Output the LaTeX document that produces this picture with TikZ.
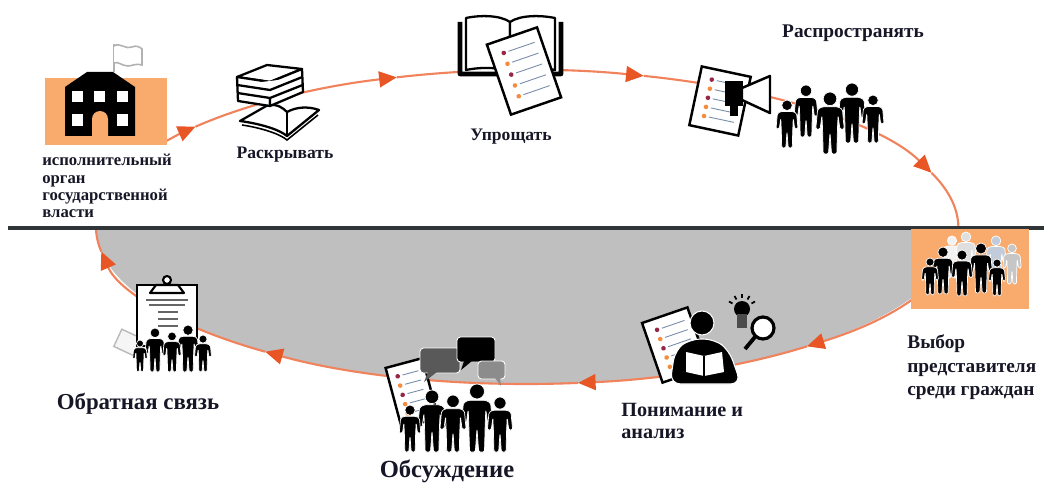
\documentclass[tikz,border=0pt]{standalone}
\usepackage{fontspec}
\setmainfont{Liberation Serif}
\usepackage{tikz}
\usetikzlibrary{arrows.meta}
\usetikzlibrary{calc}
\usetikzlibrary{positioning}

\definecolor{loopcol}{RGB}{240,130,92}
\definecolor{tipcol}{RGB}{232,86,38}
\definecolor{boxorange}{RGB}{249,171,110}
\definecolor{lowgray}{RGB}{191,191,191}
\definecolor{rulegray}{RGB}{48,54,56}
\definecolor{dotred}{RGB}{150,40,70}
\definecolor{dotorange}{RGB}{244,140,64}
\definecolor{rowblue}{RGB}{120,140,170}
\definecolor{inktext}{RGB}{22,22,38}

\begin{document}
\begin{tikzpicture}[x=0.02cm,y=-0.02cm]
  \newcommand{\person}[4]{%
    \begin{scope}[shift={(#1,#2)}, scale=#3]
      \filldraw[fill=#4, draw=white, line width=0.4pt] (0,0.11) circle (0.11);
      \filldraw[fill=#4, draw=white, line width=0.4pt, rounded corners=0.8pt] (-0.13,0.24) -- (0.13,0.24) -- (0.2,0.28) -- (0.23,0.6) -- (0.16,0.6) -- (0.13,0.38) -- (0.12,0.6) -- (0.11,1) -- (0.025,1) -- (0,0.66) -- (-0.025,1) -- (-0.11,1) -- (-0.12,0.6) -- (-0.13,0.38) -- (-0.16,0.6) -- (-0.23,0.6) -- (-0.2,0.28) -- cycle;
    \end{scope}}
  \newcommand{\listsheet}[5]{%
    \begin{scope}[shift={(#1,#2)}, rotate=#3]
      \draw[sheet] ({-#4/2},{-#5/2}) rectangle ({#4/2},{#5/2});
      \foreach \k/\dc in {0/dotred,1/dotorange,2/dotred,3/dotorange,4/dotorange} {
        \fill[\dc] ({-#4/4},{-#5/2+#5*(0.18+0.155*\k)}) circle (2.3);
        \draw[rowblue, line width=0.5pt] ({-#4/4+5},{-#5/2+#5*(0.18+0.155*\k)}) -- ({#4/2-7},{-#5/2+#5*(0.18+0.155*\k)});
      }
    \end{scope}}
  \tikzstyle{loopline} = [draw=loopcol, line width=1.2pt]
  \tikzstyle{looptip}  = [loopline, -{Triangle[length=10pt, width=9pt, color=tipcol]}]
  \tikzstyle{ink}      = [draw=black, line width=1.3pt, line join=round, fill=white]
  \tikzstyle{sheet}    = [draw=black, line width=1.4pt, fill=white]
  \tikzstyle{obox}     = [fill=boxorange, inner sep=0pt]
  \tikzstyle{steptext} = [text=inktext, inner sep=0pt, align=left]

  \useasboundingbox (0,0) rectangle (1044,486);

  % grey lower half and the orange loop
  \coordinate (c) at (527,227);
  \begin{scope}
    \clip (0,228) rectangle (1044,486);
    \fill[lowgray] (c) ellipse [x radius=431, y radius=157];
  \end{scope}
  \foreach \a/\b in {212/219.7, 219.7/252.4, 252.4/285.7, 285.7/339.8, 339.8/409.5, 409.5/443.2, 443.2/487.4, 487.4/531}
    \draw[looptip] ($(c)+(\a:431 and 157)$) arc[start angle=\a, end angle=\b, x radius=431, y radius=157];
  \draw[loopline] ($(c)+(531:431 and 157)$) arc[start angle=531, end angle=540, x radius=431, y radius=157];
  \draw[rulegray, line width=1.8pt] (8,228) -- (1044,228);

  \node[obox, minimum width=2.44cm, minimum height=1.34cm] (govbox) at (106,111.5) {};
  \node[obox, minimum width=2.36cm, minimum height=1.6cm] (crowdbox) at (970,269) {};

  % building with flag
  \draw[gray!60, line width=1pt] (114,72) -- (114,44);
  \draw[gray!60, line width=0.9pt, fill=white] (114,46) .. controls (120,42) and (126,50) .. (132,47) .. controls (136,45) and (140,47) .. (142,49) -- (142,65) .. controls (136,63) and (132,66) .. (128,66) .. controls (122,66) and (118,61) .. (114,63);
  \fill[black] (65,136) -- (65,87) -- (87,72) -- (113,72) -- (135,87) -- (135,136) -- cycle;
  \foreach \wx in {72,94,117} \fill[white] (\wx,91) rectangle ++(11,11);
  \foreach \wx in {72,117} \fill[white] (\wx,114) rectangle ++(11,12);
  \fill[boxorange] (92,136) -- (92,119) arc[start angle=180, end angle=360, x radius=8, y radius=8] -- (108,136) -- cycle;

  % books
  \draw[ink] (240,121) -- (268,105) .. controls (278,104) and (283,108) .. (287,112) .. controls (296,107) and (308,106) .. (319,110) -- (287,136) .. controls (280,130) and (262,124) .. (240,121) -- cycle;
  \draw[ink] (287,112) -- (287,136);
  \draw[black, line width=0.9pt] (242,125) .. controls (262,128) and (280,134) .. (287,140) -- (318,115);
  \draw[ink] (237,77) -- (267,65) -- (302,69) -- (270,82) -- cycle;
  \draw[ink] (237,77) -- (270,82) -- (270,106) -- (238,101) -- cycle;
  \draw[ink] (270,82) -- (302,69) -- (303,92) -- (270,106) -- cycle;
  \draw[ink] (237.3,85) -- (270,90) -- (302.3,77) (237.6,93) -- (270,98) -- (302.6,85);

  % open book with list
  \draw[ink, line width=2.6pt] (460,22) -- (460,74) -- (506,74) -- (510,78) -- (514,74) -- (561,74) -- (561,22);
  \draw[ink] (510,72) -- (510,22) .. controls (500,15) and (480,15) .. (466,18) -- (466,70) .. controls (480,67) and (500,67) .. (510,72);
  \draw[ink] (510,72) -- (510,22) .. controls (520,15) and (540,15) .. (555,18) -- (555,70) .. controls (540,67) and (520,67) .. (510,72);
  \listsheet{524}{71}{19}{53}{74}

  % list, megaphone and people
  \listsheet{720}{101}{-12}{50}{60}
  \draw[ink, line width=1.4pt] (742,88) -- (770,76) -- (770,113) -- (742,100) -- cycle;
  \fill[black] (725,81) rectangle (743,106);
  \fill[black] (730,105) rectangle (738,116);
  \person{806}{85}{52}{black}
  \person{852}{83}{60}{black}
  \person{787}{100}{48}{black}
  \person{830}{92}{62}{black}
  \person{873}{95}{48}{black}

  % crowd
  \person{952}{236}{42}{gray!10}
  \person{966}{232}{44}{gray!25}
  \person{996}{236}{44}{rowblue!45}
  \person{1012}{244}{40}{gray!45}
  \person{943}{247}{47}{black}
  \person{981}{243}{50}{black}
  \person{930}{258}{37}{black}
  \person{962}{250}{46}{black}
  \person{997}{259}{37}{black}

  % reader, bulb and magnifier
  \listsheet{675}{345}{19}{48}{63}
  \filldraw[fill=black, draw=white, line width=0.6pt, rounded corners=6pt] (670,384) -- (675,350) -- (690,339) -- (714,339) -- (729,350) -- (741,384) -- cycle;
  \filldraw[fill=black, draw=white, line width=0.6pt] (702,323) circle (12);
  \fill[white] (686,352) -- (704,356) -- (722,352) -- (724,372) -- (704,376) -- (686,372) -- cycle;
  \draw[black, line width=0.8pt] (704,356) -- (704,376);
  \fill[black] (742,309) circle (8);
  \fill[black!70] (737,314) rectangle (747,328);
  \foreach \r in {-30,-60,-90,-120,-150}
    \draw[black, line width=1pt] ($(742,309)+(\r:11)$) -- ($(742,309)+(\r:15)$);
  \draw[black, line width=2.2pt] (755,337) -- (745,349);
  \draw[black, line width=1.8pt, fill=white] (763,328) circle (11);

  % discussion
  \listsheet{412}{393}{15}{38}{62}
  \filldraw[fill=black!65, draw=white, line width=0.5pt, rounded corners=2pt] (420,348) rectangle (460,373);
  \fill[black!65] (428,372) -- (424,382) -- (437,372) -- cycle;
  \filldraw[fill=black, draw=white, line width=0.5pt, rounded corners=2pt] (457,337) rectangle (495,362);
  \fill[black] (464,361) -- (461,370) -- (472,361) -- cycle;
  \filldraw[fill=black!45, draw=white, line width=0.5pt, rounded corners=2pt] (478,361) rectangle (505,379);
  \fill[black!45] (495,378) -- (501,386) -- (500,378) -- cycle;
  \person{432}{390}{62}{black}
  \person{477}{384}{68}{black}
  \person{410}{405}{47}{black}
  \person{453}{395}{57}{black}
  \person{500}{397}{55}{black}

  % clipboard
  \draw[gray!55, line width=0.8pt, fill=gray!8, rotate around={-25:(128,342)}] (117,333) rectangle (140,352);
  \draw[sheet] (137,285) rectangle (197,346);
  \draw[ink, line width=1.2pt] (150,293) -- (156,285) -- (178,285) -- (184,293) -- cycle;
  \draw[ink, line width=1.2pt] (167,280) circle (4);
  \draw[black!60, line width=0.8pt] (146,300) -- (188,300) (149,305) -- (185,305) (158,312) -- (178,312) (158,319) -- (178,319) (158,326) -- (178,326);
  \person{155}{328}{44}{black}
  \person{188}{325}{47}{black}
  \person{140}{340}{32}{black}
  \person{172}{332}{40}{black}
  \person{203}{335}{37}{black}

  % captions
  \node[steptext, font=\bfseries\fontsize{9.5}{9.8}\selectfont, anchor=north west] (gov) at (42,154) {исполнительный\\орган\\государственной\\власти};
  \node[steptext, font=\bfseries\fontsize{10}{12}\selectfont] (disclose) at (285,155) {Раскрывать};
  \node[steptext, font=\bfseries\fontsize{10}{12}\selectfont] (simplify) at (511,137) {Упрощать};
  \node[steptext, font=\bfseries\fontsize{11}{13}\selectfont] (spread) at (853,33) {Распространять};
  \node[steptext, font=\bfseries\fontsize{11}{13.6}\selectfont, anchor=north west] (choose) at (907,334) {Выбор\\представителя\\среди граждан};
  \node[steptext, font=\bfseries\fontsize{11.5}{12.5}\selectfont, anchor=north west] (analyse) at (621,403) {Понимание и\\анализ};
  \node[steptext, font=\bfseries\fontsize{14}{16}\selectfont] (discuss) at (447,471) {Обсуждение};
  \node[steptext, font=\bfseries\fontsize{13}{15}\selectfont] (feedback) at (138,404) {Обратная связь};
\end{tikzpicture}
\end{document}
